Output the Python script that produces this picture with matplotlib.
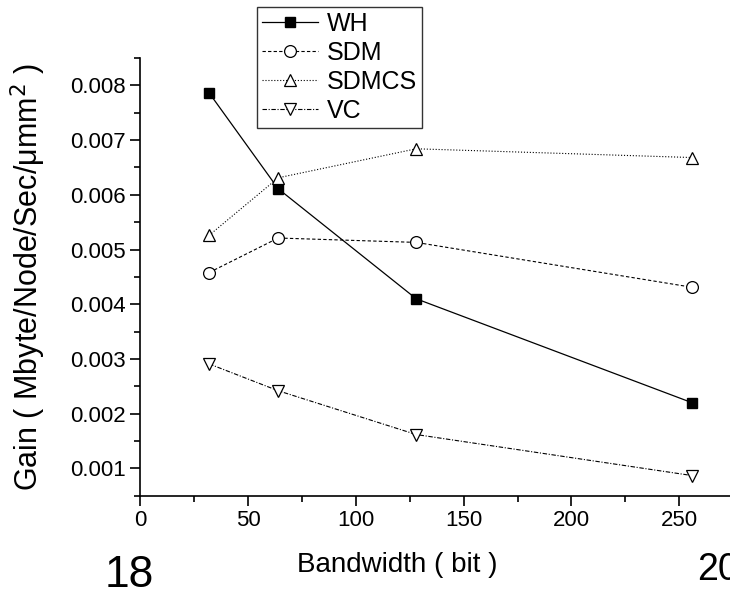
import numpy as np
import matplotlib
matplotlib.use('Agg')
import matplotlib.pyplot as plt
from matplotlib.ticker import MultipleLocator, FormatStrFormatter

plt.rcParams['font.family'] = ['Liberation Sans', 'DejaVu Sans']

bandwidth = [32, 64, 128, 256]
wh = [0.00786, 0.00611, 0.00410, 0.00220]
sdm = [0.00458, 0.00521, 0.00513, 0.00431]
sdmcs = [0.00526, 0.00631, 0.00684, 0.00668]
vc = [0.00291, 0.00242, 0.00162, 0.00087]

fig = plt.figure(figsize=(7.30, 5.91), dpi=100)
# axes runs past the right edge of the picture (the original is cropped there)
ax = fig.add_axes([0.192, 0.161, 0.808, 0.741])

ax.plot(bandwidth, wh, '-', color='black', lw=0.9, marker='s', ms=7,
        mfc='black', mec='black', label='WH')
ax.plot(bandwidth, sdm, '--', color='black', lw=0.8, marker='o', ms=8.5,
        mfc='white', mec='black', mew=0.9, label='SDM', dashes=(3, 2))
ax.plot(bandwidth, sdmcs, ':', color='black', lw=0.8, marker='^', ms=9,
        mfc='white', mec='black', mew=0.9, label='SDMCS')
ax.plot(bandwidth, vc, '-.', color='black', lw=0.8, marker='v', ms=9,
        mfc='white', mec='black', mew=0.9, label='VC', dashes=(4, 1.5, 1, 1.5))

ax.set_xlim(0, 273.5)
ax.set_ylim(0.0005, 0.0085)
ax.xaxis.set_major_locator(MultipleLocator(50))
ax.xaxis.set_minor_locator(MultipleLocator(25))
ax.yaxis.set_major_locator(MultipleLocator(0.001))
ax.yaxis.set_minor_locator(MultipleLocator(0.0005))
ax.yaxis.set_major_formatter(FormatStrFormatter('%.3f'))

ax.spines['top'].set_visible(False)
ax.spines['right'].set_visible(False)
ax.spines['left'].set_linewidth(1.2)
ax.spines['bottom'].set_linewidth(1.2)
ax.tick_params(which='major', length=7, width=1.2, labelsize=16)
ax.tick_params(which='minor', length=4, width=1.2)

ax.set_ylabel('Gain ( Mbyte/Node/Sec/μmm$^2$ )', fontsize=22)
ax.yaxis.set_label_coords(-0.156, 0.5)
ax.set_xlabel('Bandwidth ( bit )', fontsize=20)
ax.xaxis.set_label_coords(0.436, -0.128)

leg = ax.legend(loc='upper left', bbox_to_anchor=(257 / 730, 1 - 7 / 591),
                bbox_transform=fig.transFigure, fontsize=18,
                frameon=True, fancybox=False, edgecolor='black',
                handlelength=2.25, borderpad=0.2, labelspacing=0.2,
                handletextpad=0.35, borderaxespad=0)
leg.get_frame().set_linewidth(1.0)

fig.text(105 / 730, 1 - 587 / 591, '18', fontsize=32, va='baseline')
fig.text(697 / 730, 1 - 580 / 591, '20', fontsize=27, va='baseline')

fig.savefig('out.png', dpi=100)
